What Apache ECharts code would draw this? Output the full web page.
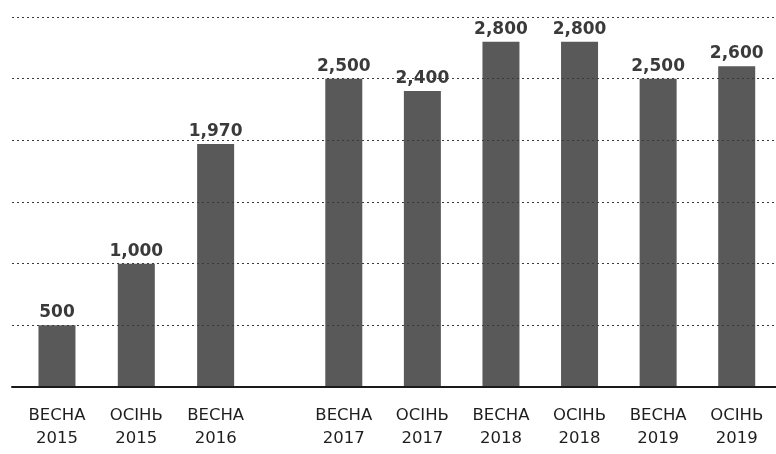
<!DOCTYPE html>
<html>
<head>
<meta charset="utf-8">
<script src="https://cdn.jsdelivr.net/npm/echarts@6/dist/echarts.min.js"></script>
<style>
html,body{margin:0;padding:0;background:#fff;}
#chart{width:776px;height:454px;}
</style>
</head>
<body>
<div id="chart"></div>
<script>
// Data
const categories = ['ВЕСНА\n2015','ОСІНЬ\n2015','ВЕСНА\n2016','ВЕСНА\n2017','ОСІНЬ\n2017','ВЕСНА\n2018','ОСІНЬ\n2018','ВЕСНА\n2019','ОСІНЬ\n2019'];
const values = [500, 1000, 1970, 2500, 2400, 2800, 2800, 2500, 2600];
const groupSizes = [3, 6];
const yMax = 3000;
const yStep = 500;

const groups = [];
let startIdx = 0;
for (const n of groupSizes) {
  groups.push({cats: categories.slice(startIdx, startIdx + n), vals: values.slice(startIdx, startIdx + n)});
  startIdx += n;
}

const FONT = 'DejaVu Sans';
const gTop = 17, gBottom = 67;
const grids = [
  {left: 12, right: 0, top: gTop, bottom: gBottom},
  {left: 17.3, width: 238, top: gTop, bottom: gBottom},
  {left: 304.5, width: 478, top: gTop, bottom: gBottom}
];

const xAxes = [
  {gridIndex: 0, type: 'value', min: 0, max: 1, axisLine: {show: true, onZero: false, lineStyle: {color: '#1a1a1a', width: 2}}, axisTick: {show: false}, axisLabel: {show: false}, splitLine: {show: false}, z: 5}
];
const yAxes = [
  {gridIndex: 0, type: 'value', min: 0, max: yMax, interval: yStep, axisLine: {show: false}, axisTick: {show: false}, axisLabel: {show: false},
   splitLine: {show: true, lineStyle: {color: '#3a3a3a', width: 1.2, type: [2, 3]}}, z: 4}
];
const series = [];
groups.forEach((g, i) => {
  xAxes.push({gridIndex: i + 1, type: 'category', data: g.cats, axisLine: {show: false}, axisTick: {show: false},
    axisLabel: {margin: 17, fontFamily: FONT, fontSize: 16.5, lineHeight: 23, color: '#1e1e1e', interval: 0}});
  yAxes.push({gridIndex: i + 1, type: 'value', min: 0, max: yMax, interval: yStep, show: false, splitLine: {show: false}});
  series.push({
    type: 'bar', xAxisIndex: i + 1, yAxisIndex: i + 1, data: g.vals, barWidth: 37,
    itemStyle: {color: '#595959'},
    label: {show: true, position: 'top', distance: 4, fontFamily: FONT, fontWeight: 'bold', fontSize: 17, color: '#3a3a3a',
      formatter: p => p.value.toLocaleString('en-US')},
    z: 2
  });
});

const chart = echarts.init(document.getElementById('chart'), null, {renderer: 'canvas'});
chart.setOption({
  animation: false,
  backgroundColor: '#fff',
  grid: grids,
  xAxis: xAxes,
  yAxis: yAxes,
  series: series
});
</script>
</body>
</html>
